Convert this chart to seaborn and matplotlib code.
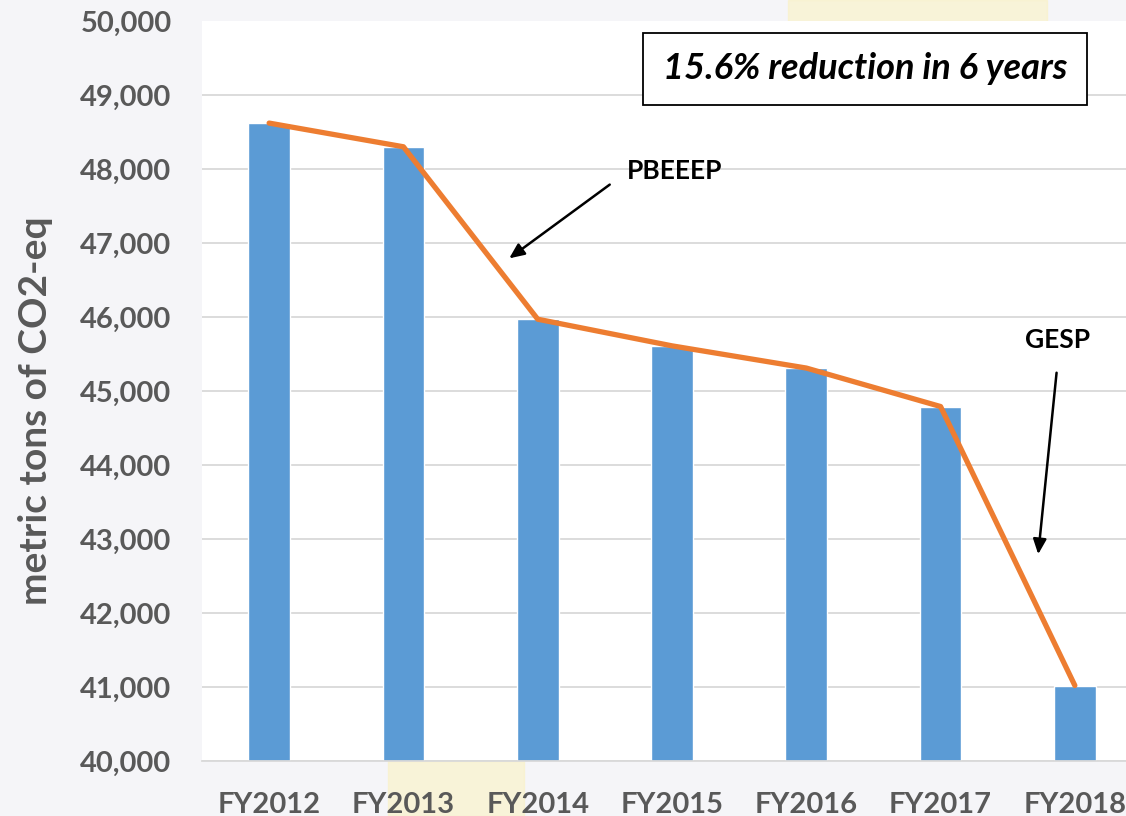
import seaborn as sns
import matplotlib.pyplot as plt
from matplotlib.patches import Rectangle

# chart data
years = ["FY2012", "FY2013", "FY2014", "FY2015", "FY2016", "FY2017", "FY2018"]
emissions = [48620, 48300, 45970, 45610, 45310, 44790, 41020]
y_ticks = [40000, 41000, 42000, 43000, 44000, 45000, 46000, 47000, 48000, 49000, 50000]

sns.set_style("white")
plt.rcParams['font.family'] = ['Lato', 'DejaVu Sans']

fig = plt.figure(figsize=(11.26, 8.16), dpi=100)
fig.patch.set_facecolor("#F5F5F8")
# faint yellow slide decoration behind the chart
fig.patches.append(Rectangle((0.70, 0.93), 0.23, 0.07, transform=fig.transFigure,
                             color="#FBF2C4", alpha=0.6, zorder=-5))
fig.patches.append(Rectangle((0.345, 0.0), 0.12, 0.067, transform=fig.transFigure,
                             color="#FBF2C4", alpha=0.6, zorder=-5))

ax = fig.add_axes([0.1794, 0.0674, 0.8348, 0.9069])
ax.set_facecolor("white")

sns.barplot(x=years, y=emissions, color="#5B9BD5", width=0.31, saturation=1, ax=ax, zorder=2)
sns.lineplot(x=years, y=emissions, sort=False, color="#ED7D31", linewidth=3.8, ax=ax, zorder=3)

ax.set_xlim(-0.5, 6.5)
ax.set_ylim(40000, 50000)
ax.set_yticks(y_ticks)
ax.set_yticklabels([f"{v:,}" for v in y_ticks])
ax.yaxis.grid(True, color="#D9D9D9", linewidth=1.3, zorder=0)
ax.get_ygridlines()[-1].set_visible(False)
ax.set_axisbelow(True)
for s in ["top", "right", "left"]:
    ax.spines[s].set_visible(False)
ax.spines["bottom"].set_color("#D9D9D9")
ax.spines["bottom"].set_linewidth(1.3)

ax.tick_params(axis="y", length=0, pad=22, labelsize=21, labelcolor="#595959")
ax.tick_params(axis="x", length=0, pad=22, labelsize=21, labelcolor="#595959")
for lab in ax.get_xticklabels() + ax.get_yticklabels():
    lab.set_fontweight("bold")

ax.set_ylabel("metric tons of CO2-eq", fontsize=28, fontweight="bold", color="#595959")
ax.yaxis.set_label_coords(-0.158, 0.473)

ax.text(4.437, 49351, "15.6% reduction in 6 years", ha="center", va="center",
        fontsize=26, fontweight="bold", fontstyle="italic", color="black",
        bbox=dict(boxstyle="square,pad=0.55", facecolor="white", edgecolor="black", linewidth=1.3),
        zorder=5)

ax.annotate("", xy=(1.771, 46770), xytext=(2.553, 47811),
            arrowprops=dict(arrowstyle="-|>,head_length=0.9,head_width=0.4", color="black", lw=1.8))
ax.text(3.02, 47973, "PBEEEP", ha="center", va="center", fontsize=19, fontweight="bold", color="black")

ax.annotate("", xy=(5.725, 42757), xytext=(5.866, 45284),
            arrowprops=dict(arrowstyle="-|>,head_length=0.9,head_width=0.4", color="black", lw=1.8))
ax.text(5.874, 45689, "GESP", ha="center", va="center", fontsize=19, fontweight="bold", color="black")

fig.savefig("out.png", dpi=100, facecolor=fig.get_facecolor())
